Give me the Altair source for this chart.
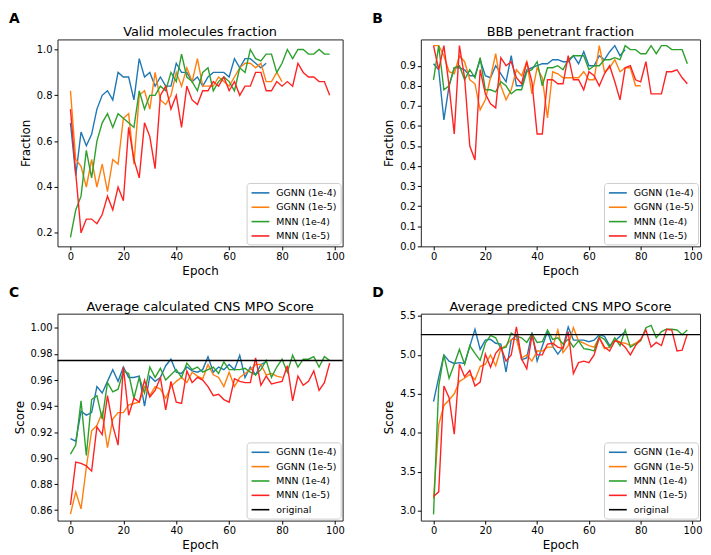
import altair as alt
import pandas as pd

FONT = "DejaVu Sans"

epochs = list(range(0, 100, 2))
models = ["GGNN (1e-4)", "GGNN (1e-5)", "MNN (1e-4)", "MNN (1e-5)"]
colors = ["#1f77b4", "#ff7f0e", "#2ca02c", "#ff2222"]

# ---- Panel A: Valid molecules fraction
ggnn4_A = [0.68, 0.45, 0.64, 0.58, 0.63, 0.74, 0.80, 0.82, 0.78, 0.90,
           0.88, 0.88, 0.78, 0.96, 0.88, 0.90, 0.84, 0.88, 0.84, 0.84,
           0.94, 0.90, 0.90, 0.86, 0.88, 0.84, 0.88, 0.90, 0.90, 0.90,
           0.88, 0.96, 0.92, 0.96, 0.96, 0.94, 0.92, 0.94]
ggnn5_A = [0.82, 0.52, 0.49, 0.40, 0.52, 0.40, 0.50, 0.38, 0.52, 0.50,
           0.70, 0.72, 0.50, 0.80, 0.82, 0.74, 0.90, 0.78, 0.76, 0.80,
           0.90, 0.84, 0.92, 0.86, 0.96, 0.84, 0.84, 0.84, 0.88, 0.86,
           0.84, 0.88, 0.92, 0.94, 0.94, 0.92, 0.94, 0.86, 0.86, 0.90,
           0.86]
mnn4_A = [0.18, 0.30, 0.36, 0.56, 0.44, 0.60, 0.68, 0.72, 0.66, 0.72,
          0.70, 0.68, 0.66, 0.82, 0.74, 0.80, 0.80, 0.84, 0.82, 0.90,
          0.86, 0.98, 0.88, 0.86, 0.82, 0.90, 0.92, 0.82, 0.86, 0.88,
          0.86, 0.82, 0.92, 0.90, 1.00, 0.96, 0.95, 0.98, 0.98, 0.90,
          0.94, 1.00, 0.96, 1.00, 1.00, 0.98, 0.98, 1.00, 0.98, 0.98]
mnn5_A = [0.74, 0.46, 0.20, 0.26, 0.26, 0.24, 0.28, 0.36, 0.30, 0.40,
          0.34, 0.66, 0.52, 0.44, 0.68, 0.62, 0.48, 0.80, 0.84, 0.74,
          0.80, 0.66, 0.84, 0.78, 0.76, 0.82, 0.82, 0.86, 0.84, 0.88,
          0.82, 0.86, 0.80, 0.84, 0.84, 0.90, 0.90, 0.82, 0.82, 0.86,
          0.84, 0.86, 0.84, 0.94, 0.90, 0.88, 0.88, 0.86, 0.86, 0.80]

# ---- Panel B: BBB penetrant fraction
ggnn4_B = [0.91, 0.88, 0.63, 0.80, 0.89, 0.89, 0.88, 0.85, 0.85, 0.93,
           0.85, 0.84, 0.90, 0.86, 0.82, 0.95, 0.80, 0.80, 0.88, 0.89,
           0.90, 0.91, 0.91, 0.93, 0.93, 0.92, 0.92, 0.95, 0.91, 0.97,
           0.90, 0.90, 0.95, 0.93, 0.97, 1.00, 0.95, 0.98]
ggnn5_B = [1.00, 1.00, 0.95, 0.87, 0.86, 0.95, 0.92, 0.83, 0.81, 0.68,
           0.73, 0.84, 0.96, 0.80, 0.73, 0.78, 0.88, 0.85, 0.92, 0.76,
           0.89, 0.84, 0.64, 0.87, 0.86, 0.84, 0.84, 0.84, 0.84, 0.87,
           0.83, 0.83, 1.00, 0.87, 0.89, 0.93, 0.87, 0.89, 0.89, 0.80,
           0.80]
mnn4_B = [0.83, 1.00, 0.78, 0.80, 0.89, 0.90, 0.83, 0.88, 0.84, 0.94,
          0.78, 0.78, 0.77, 0.82, 0.80, 0.76, 0.78, 0.78, 0.87, 0.88,
          0.92, 0.80, 0.89, 0.89, 0.90, 0.88, 0.93, 0.95, 0.95, 0.95,
          0.88, 0.90, 0.90, 0.93, 0.93, 0.94, 0.93, 1.00, 0.98, 0.98,
          0.96, 0.96, 1.00, 0.96, 1.00, 1.00, 0.98, 0.98, 0.98, 0.91]
mnn5_B = [1.00, 0.88, 1.00, 0.80, 0.56, 1.00, 0.84, 0.50, 0.43, 0.88,
          0.76, 0.71, 0.69, 0.94, 0.90, 0.92, 0.84, 0.81, 0.92, 0.82,
          0.56, 0.56, 0.83, 0.83, 0.81, 0.81, 0.95, 0.83, 0.83, 0.78,
          0.87, 0.85, 0.80, 0.86, 0.90, 0.82, 0.73, 0.89, 0.90, 0.83,
          0.82, 0.92, 0.76, 0.76, 0.76, 0.87, 0.87, 0.88, 0.84, 0.81]

# ---- Panel C: Average calculated CNS MPO Score
ggnn4_C = [0.915, 0.913, 0.936, 0.933, 0.935, 0.955, 0.950, 0.959, 0.968, 0.959,
           0.970, 0.962, 0.962, 0.963, 0.940, 0.963, 0.959, 0.962, 0.971, 0.976,
           0.966, 0.965, 0.970, 0.967, 0.966, 0.968, 0.978, 0.966, 0.970, 0.968,
           0.972, 0.968, 0.979, 0.962, 0.970, 0.964, 0.972, 0.974]
ggnn5_C = [0.857, 0.874, 0.861, 0.893, 0.921, 0.925, 0.935, 0.908, 0.930, 0.935,
           0.935, 0.941, 0.942, 0.943, 0.955, 0.948, 0.955, 0.953, 0.946, 0.955,
           0.959, 0.962, 0.958, 0.966, 0.963, 0.961, 0.972, 0.964, 0.962, 0.955,
           0.966, 0.955, 0.962, 0.965, 0.968, 0.972, 0.972, 0.964, 0.965, 0.963,
           0.962]
mnn4_C = [0.903, 0.910, 0.944, 0.902, 0.945, 0.948, 0.930, 0.958, 0.951, 0.953,
          0.967, 0.965, 0.946, 0.962, 0.950, 0.970, 0.962, 0.969, 0.960, 0.964,
          0.968, 0.962, 0.973, 0.968, 0.970, 0.966, 0.968, 0.970, 0.965, 0.974,
          0.968, 0.968, 0.968, 0.969, 0.966, 0.964, 0.968, 0.975, 0.962, 0.970,
          0.976, 0.966, 0.979, 0.970, 0.976, 0.976, 0.978, 0.970, 0.978, 0.975]
mnn5_C = [0.864, 0.897, 0.896, 0.894, 0.890, 0.924, 0.918, 0.948, 0.925, 0.910,
          0.970, 0.933, 0.946, 0.943, 0.960, 0.947, 0.952, 0.962, 0.937, 0.959,
          0.943, 0.942, 0.967, 0.958, 0.962, 0.960, 0.955, 0.948, 0.949, 0.945,
          0.943, 0.961, 0.959, 0.958, 0.958, 0.977, 0.956, 0.963, 0.957, 0.958,
          0.959, 0.971, 0.944, 0.963, 0.956, 0.959, 0.967, 0.952, 0.958, 0.973]
original_C = 0.975

# ---- Panel D: Average predicted CNS MPO Score
ggnn4_D = [4.40, 4.71, 5.00, 4.92, 4.89, 4.90, 4.89, 5.11, 5.33, 5.07,
           5.19, 5.20, 5.15, 5.14, 4.78, 5.19, 5.25, 4.94, 4.96, 5.29,
           4.92, 5.11, 5.30, 5.11, 5.01, 5.10, 5.36, 5.19, 5.19, 5.19,
           5.17, 5.19, 5.26, 5.24, 5.12, 5.18, 5.24, 5.30]
ggnn5_D = [3.15, 4.10, 4.35, 4.42, 4.50, 4.66, 4.70, 4.75, 4.68, 4.85,
           4.88, 5.00, 4.86, 5.08, 5.12, 5.20, 5.20, 4.96, 5.00, 4.92,
           5.05, 5.05, 5.10, 5.10, 5.32, 5.03, 5.12, 5.35, 5.18, 5.15,
           5.12, 5.10, 5.22, 5.08, 5.10, 5.20, 5.16, 5.15, 5.12, 5.15,
           5.20]
mnn4_D = [2.95, 4.60, 5.00, 4.70, 4.88, 5.07, 4.88, 5.12, 5.02, 4.93,
          5.15, 5.25, 5.22, 5.08, 5.10, 5.28, 5.24, 5.22, 5.16, 5.27,
          5.16, 5.17, 5.32, 5.20, 5.22, 5.14, 5.20, 5.10, 5.18, 5.08,
          5.07, 5.05, 5.24, 5.20, 5.10, 5.22, 5.12, 5.32, 5.10, 5.14,
          5.18, 5.35, 5.38, 5.22, 5.30, 5.33, 5.33, 5.32, 5.26, 5.32]
mnn5_D = [3.18, 3.24, 4.60, 4.45, 3.98, 4.88, 4.72, 4.80, 4.60, 4.65,
          5.01, 4.84, 5.02, 5.10, 4.92, 5.00, 5.36, 4.95, 4.82, 5.25,
          5.00, 5.00, 5.14, 5.15, 5.10, 5.08, 5.30, 4.76, 4.90, 4.92,
          4.90, 5.00, 5.22, 5.10, 5.05, 5.18, 5.16, 5.10, 5.00, 5.12,
          5.20, 5.32, 5.10, 5.16, 5.12, 5.33, 5.32, 5.05, 5.06, 5.27]
original_D = 5.26

x_ticks = [0, 20, 40, 60, 80, 100]


def long_df(series_list):
    rows = []
    for m, vals in zip(models, series_list):
        for e, v in zip(epochs, vals):
            rows.append({"epoch": e, "value": v, "model": m})
    return pd.DataFrame(rows)


def panel(letter, title, ytitle, series, ydomain, yticks, yformat, width, height, original=None):
    df = long_df(series)
    dom = list(models)
    rng = list(colors)
    if original is not None:
        dom.append("original")
        rng.append("black")
    color = alt.Color(
        "model:N",
        scale=alt.Scale(domain=dom, range=rng),
        legend=alt.Legend(
            title=None, orient="bottom-right", offset=2, padding=4,
            strokeColor="#cccccc", fillColor="white", cornerRadius=3,
            labelFont=FONT, labelFontSize=9.5, labelColor="black",
            symbolType="M-1.8,0L1.8,0", symbolSize=100, symbolStrokeWidth=1.6,
            symbolOffset=4, rowPadding=3.5, labelOffset=10,
        ),
    )
    x = alt.X("epoch:Q",
              scale=alt.Scale(domain=[-4.9, 102.9], nice=False, zero=False),
              axis=alt.Axis(values=x_ticks, title="Epoch", format="d"))
    y = alt.Y("value:Q",
              scale=alt.Scale(domain=ydomain, nice=False, zero=False),
              axis=alt.Axis(values=yticks, title=ytitle, format=yformat,
                            labelOverlap=False))
    lines = alt.Chart(df).mark_line(strokeWidth=1.4).encode(x=x, y=y, color=color)
    layers = [lines]
    if original is not None:
        odf = pd.DataFrame({"value": [original], "model": ["original"]})
        rule = alt.Chart(odf).mark_rule(strokeWidth=1.4).encode(y=y, color=color)
        layers.append(rule)
    ldf = pd.DataFrame({"label": [letter], "title": [title]})
    letter_mark = alt.Chart(ldf).mark_text(
        align="left", baseline="alphabetic", fontSize=14, fontWeight="bold",
        font=FONT, color="black",
    ).encode(x=alt.value(-49), y=alt.value(-17), text="label:N")
    title_mark = alt.Chart(ldf).mark_text(
        align="center", baseline="alphabetic", fontSize=13,
        font=FONT, color="black",
    ).encode(x=alt.value(width / 2), y=alt.value(-3), text="title:N")
    layers += [letter_mark, title_mark]
    return alt.layer(*layers).properties(width=width, height=height)


pA = panel("A", "Valid molecules fraction", "Fraction",
           [ggnn4_A, ggnn5_A, mnn4_A, mnn5_A], [0.141, 1.044],
           [0.2, 0.4, 0.6, 0.8, 1.0], ".1f", 288, 209)
pB = panel("B", "BBB penetrant fraction", "Fraction",
           [ggnn4_B, ggnn5_B, mnn4_B, mnn5_B], [0.0, 1.031],
           [0.0, 0.1, 0.2, 0.3, 0.4, 0.5, 0.6, 0.7, 0.8, 0.9], ".1f", 282, 209)
pC = panel("C", "Average calculated CNS MPO Score", "Score",
           [ggnn4_C, ggnn5_C, mnn4_C, mnn5_C], [0.852, 1.011],
           [0.86, 0.88, 0.90, 0.92, 0.94, 0.96, 0.98, 1.00], ".2f", 288, 209,
           original=original_C)
pD = panel("D", "Average predicted CNS MPO Score", "Score",
           [ggnn4_D, ggnn5_D, mnn4_D, mnn5_D], [2.87, 5.53],
           [3.0, 3.5, 4.0, 4.5, 5.0, 5.5], ".1f", 282, 209,
           original=original_D)

chart = alt.concat(
    pA, pB, pC, pD, columns=2, spacing={"row": 68, "column": 79}, bounds="flush",
).resolve_scale(
    color="independent", x="independent", y="independent",
).resolve_legend(
    color="independent",
).properties(
    padding=0,
).configure_view(
    stroke="#222222", strokeWidth=1,
).configure_axis(
    labelFont=FONT, labelFontSize=10, labelColor="black",
    titleFont=FONT, titleFontSize=12, titleFontWeight="normal", titleColor="black",
    tickColor="black", tickSize=3.5, grid=False, domain=False,
    labelPadding=2, titlePadding=4,
)

chart.save("out.html", embed_options={"renderer": "svg", "actions": False})
